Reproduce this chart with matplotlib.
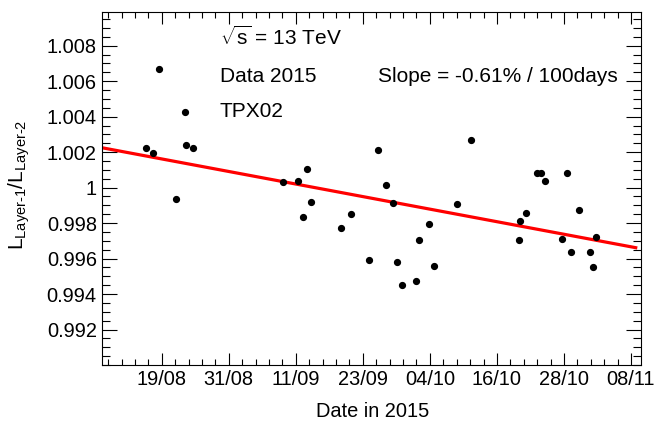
import numpy as np
import matplotlib
matplotlib.use('Agg')
import matplotlib.pyplot as plt
from matplotlib.ticker import MultipleLocator, FixedLocator

plt.rcParams['font.family'] = ['Liberation Sans', 'DejaVu Sans']
plt.rcParams['mathtext.fontset'] = 'custom'
plt.rcParams['mathtext.rm'] = 'Liberation Sans'
plt.rcParams['mathtext.it'] = 'Liberation Sans:italic'

# measurement times (UTC) and layer ratio
dates = ['2015-08-16T22:55', '2015-08-18T02:41', '2015-08-19T06:02', '2015-08-22T04:31',
         '2015-08-23T15:21', '2015-08-23T19:30', '2015-08-25T03:01', '2015-09-09T13:36',
         '2015-09-12T03:46', '2015-09-13T03:02', '2015-09-13T18:24', '2015-09-14T09:46',
         '2015-09-19T15:17', '2015-09-21T07:34', '2015-09-24T12:40', '2015-09-26T00:50',
         '2015-09-27T11:12', '2015-09-28T13:50', '2015-09-29T06:24', '2015-09-30T05:26',
         '2015-10-02T13:07', '2015-10-03T04:00', '2015-10-04T18:53', '2015-10-05T18:10',
         '2015-10-09T16:14', '2015-10-12T02:19', '2015-10-20T09:17', '2015-10-20T13:36',
         '2015-10-21T11:26', '2015-10-23T10:43', '2015-10-24T01:36', '2015-10-24T18:10',
         '2015-10-27T16:43', '2015-10-28T16:14', '2015-10-29T07:36', '2015-10-30T15:17',
         '2015-11-01T15:46', '2015-11-02T01:22', '2015-11-02T13:50']
ratio = [1.00225, 1.00197, 1.00669, 0.99937, 1.00425, 1.00240, 1.00225, 1.00034,
         1.00035, 0.99837, 1.00103, 0.99921, 0.99774, 0.99850, 0.99590, 1.00213,
         1.00013, 0.99912, 0.99579, 0.99451, 0.99474, 0.99706, 0.99796, 0.99558,
         0.99906, 1.00266, 0.99706, 0.99811, 0.99854, 1.00080, 1.00080, 1.00039,
         0.99712, 1.00080, 0.99639, 0.99876, 0.99639, 0.99552, 0.99719]

# linear fit: value at start of range, slope in % per 100 days
fit_start = '2015-08-09T07:07'
fit_end = '2015-11-09T18:33'
fit_p0 = 1.00225
fit_slope_pct = -0.61

# ROOT time axis: ticks every 1e6 s
x_ticks = 1.44e9 + 1e6 * np.arange(8)
x_tick_labels = ['19/08', '31/08', '11/09', '23/09', '04/10', '16/10', '28/10', '08/11']
y_ticks = [0.992, 0.994, 0.996, 0.998, 1.000, 1.002, 1.004, 1.006, 1.008]
y_tick_labels = ['0.992', '0.994', '0.996', '0.998', '1', '1.002', '1.004', '1.006', '1.008']

t = np.array(dates, dtype='datetime64[s]').astype(float)
t0 = np.datetime64(fit_start, 's').astype(float)
t1 = np.datetime64(fit_end, 's').astype(float)

fig = plt.figure(figsize=(6.57, 4.24), dpi=100)
ax = fig.add_axes([0.1548, 0.1392, 0.8208, 0.8325])

tf = np.array([t0, t1])
yf = fit_p0 * (1 + fit_slope_pct / 100 * (tf - t0) / (100 * 86400))
ax.plot(tf, yf, color='#ff0000', lw=2.3, solid_capstyle='butt', zorder=2)
ax.plot(t, ratio, 'o', color='black', ms=4.2, zorder=3)

ax.set_xlim(1.439104e9, 1.447149e9)
ax.set_ylim(0.9900, 1.0099)

ax.xaxis.set_major_locator(FixedLocator(x_ticks))
ax.xaxis.set_minor_locator(MultipleLocator(2e5))
ax.set_xticklabels(x_tick_labels)
ax.yaxis.set_major_locator(FixedLocator(y_ticks))
ax.yaxis.set_minor_locator(MultipleLocator(0.0005))
ax.set_yticklabels(y_tick_labels)

ax.tick_params(which='both', direction='in', top=True, right=True, width=0.8,
               labelsize=14.4, colors='black')
ax.tick_params(axis='x', which='major', length=8.3, pad=3.5)
ax.tick_params(axis='x', which='minor', length=4.3)
ax.tick_params(axis='y', which='major', length=10.8, pad=3.5)
ax.tick_params(axis='y', which='minor', length=5.8)
for s in ax.spines.values():
    s.set_linewidth(0.8)

fig.text(0.5665, 0.016, 'Date in 2015', fontsize=14.4, ha='center', va='baseline')
fig.text(0.030, 0.565, 'L$_{\\mathrm{Layer\u20101}}$/L$_{\\mathrm{Layer\u20102}}$',
         rotation=90, fontsize=15, ha='center', va='center')

ax.text(0.219, 0.9065, r'$\sqrt{\mathrm{s}}$ = 13 TeV', transform=ax.transAxes,
        fontsize=15, va='baseline')
ax.text(0.219, 0.8026, 'Data 2015', transform=ax.transAxes, fontsize=15, va='baseline')
ax.text(0.219, 0.7025, 'TPX02', transform=ax.transAxes, fontsize=15, va='baseline')
ax.text(0.513, 0.8026, 'Slope = -0.61% / 100days', transform=ax.transAxes,
        fontsize=15, va='baseline')

fig.savefig('out.png', dpi=100)
